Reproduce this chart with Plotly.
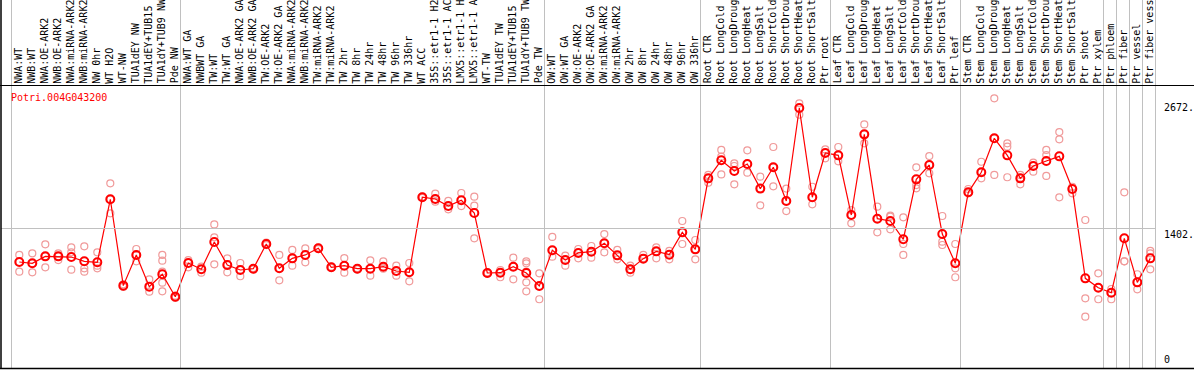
import plotly.graph_objects as go

W, H = 1194, 370

labels = [
    "NWA:WT", "NWB:WT", "NWA:OE-ARK2", "NWB:OE-ARK2", "NWA:miRNA-ARK2", "NWB:miRNA-ARK2",
    "NW 0hr", "WT H2O", "WT-NW", "TUA1dEY NW", "TUA1dEY+TUB15", "TUA1dY+TUB9 NW", "Pde NW",
    "NWA:WT GA", "NWBWT GA", "TW:WT", "TW:WT GA", "NWA:OE-ARK2 GA", "NWB:OE-ARK2 GA",
    "TW:OE-ARK2", "TW:OE-ARK2 GA", "NWA:miRNA-ARK2", "NWB:miRNA-ARK2", "TW:miRNA-ARK2",
    "TW:miRNA-ARK2", "TW 2hr", "TW 8hr", "TW 24hr", "TW 48hr", "TW 96hr", "TW 336hr",
    "WT ACC", "35S::etr1-1 H2", "35S::etr1-1 AC", "LMX5::etr1-1 H", "LMX5::etr1-1 A",
    "WT-TW", "TUA1dEY TW", "TUA1dEY+TUB15", "TUA1dY+TUB9 TW", "Pde TW",
    "OW:WT", "OW:WT GA", "OW:OE-ARK2", "OW:OE-ARK2 GA", "OW:miRNA-ARK2", "OW:miRNA-ARK2",
    "OW 2hr", "OW 8hr", "OW 24hr", "OW 48hr", "OW 96hr", "OW 336hr",
    "Root CTR", "Root LongCold", "Root LongDroug", "Root LongHeat", "Root LongSalt",
    "Root ShortCold", "Root ShortDrou", "Root ShortHeat", "Root ShortSalt", "Ptr root",
    "Leaf CTR", "Leaf LongCold", "Leaf LongDroug", "Leaf LongHeat", "Leaf LongSalt",
    "Leaf ShortCold", "Leaf ShortDrou", "Leaf ShortHeat", "Leaf ShortSalt", "Ptr leaf",
    "Stem CTR", "Stem LongCold", "Stem LongDroug", "Stem LongHeat", "Stem LongSalt",
    "Stem ShortCold", "Stem ShortDrou", "Stem ShortHeat", "Stem ShortSalt", "Ptr shoot", "Ptr xylem",
    "Ptr phloem", "Ptr fiber", "Ptr vessel", "Ptr fiber vess",
]

group_sizes = [13, 28, 12, 10, 10, 11, 1, 1, 1, 1]

means = [
    1060, 1047, 1117, 1117, 1110, 1067, 1057, 1690, 823, 1131, 813, 937, 712,
    1050, 987, 1261, 1030, 980, 993, 1241, 997, 1097, 1131, 1198, 1007, 1023, 993, 993,
    1013, 970, 957, 1710, 1693, 1622, 1680, 1552, 950, 953, 1013, 950, 819,
    1178, 1080, 1151, 1164, 1248, 1127, 987, 1094, 1167, 1134, 1358, 1187,
    1900, 2081, 1974, 2044, 1797, 2011, 1673, 2606, 1710, 2155,
    2131, 1532, 2342, 1495, 1472, 1288, 1890, 2034, 1341, 1047,
    1760, 1961, 2302, 2131, 1900, 2024, 2074, 2121, 1793, 896, 802,
    752, 1298, 856, 1097,
]

replicates = [
    [1131, 1060, 963], [1147, 1047, 957], [1238, 1117, 1007], [1147, 1117, 1080],
    [1208, 1157, 983], [1218, 997, 963], [1157, 1023, 997], [1850, 1690, 1549],
    [836, 823, 810], [1191, 1131, 1067], [886, 813, 762], [1131, 1074, 963, 853, 766],
    [722, 712, 700],
    [1080, 1050, 1007], [1013, 987, 953], [1438, 1308, 1037], [1097, 1037, 957],
    [1050, 980, 917], [1000, 993, 986], [1255, 1241, 1230], [1131, 997, 876],
    [1181, 1097, 1023], [1198, 1131, 1057], [1205, 1198, 1190], [1013, 1007, 1000],
    [1100, 1023, 953], [1000, 993, 986], [1077, 993, 923], [1067, 1013, 993],
    [1023, 970, 923], [1050, 957, 866], [1716, 1710, 1705], [1746, 1693, 1666],
    [1673, 1622, 1589], [1753, 1680, 1622], [1716, 1626, 1298], [957, 950, 943],
    [980, 953, 907], [1104, 1013, 886], [1067, 1047, 963, 856, 766], [947, 819, 686],
    [1312, 1178, 1114], [1124, 1080, 1023], [1191, 1151, 1097], [1221, 1164, 1104],
    [1341, 1248, 1157], [1181, 1127, 1087], [1023, 987, 953], [1131, 1094, 1097],
    [1208, 1167, 1097], [1171, 1134, 1087], [1472, 1358, 1241], [1281, 1187, 1087],
    [1934, 1900, 1857], [2185, 2118, 1940], [2051, 2024, 1840], [2181, 2044, 1957],
    [1917, 1797, 1629], [2215, 2011, 1820], [1797, 1673, 1572], [2653, 2606, 2539],
    [1816, 1710, 1639], [2191, 2155, 2101],
    [2215, 2131, 2071], [1582, 1532, 1449], [2442, 2342, 2252], [1616, 1495, 1358],
    [1525, 1515, 1388], [1509, 1241, 1131], [2011, 1833, 1800], [2124, 2034, 1951],
    [1522, 1264, 1231], [1241, 997, 907],
    [1793, 1760, 1750], [2067, 1961, 1900], [2704, 2302, 1934], [2252, 2218, 1911],
    [1934, 1900, 1840], [2057, 2024, 1967], [2185, 2134, 1924], [2365, 2292, 1710],
    [1816, 1793, 1750], [1482, 696, 511], [947, 802, 686],
    [789, 752, 686], [1760, 1067, 1067], [937, 856, 786], [1171, 1147, 987],
]

title_text = "Potri.004G043200"
tick_values = [2672, 1402, 0]
tick_labels = ["2672.", "1402.", "0"]

# ---- pixel geometry (layout only) ----
X0_PX, STEP_PX = 19.3, 13.0          # pixel of first category, spacing
Y0_PX, SCALE = 367.6, 0.0996         # pixel of value 0, px per unit
HEADER_PX = 85.5
BOTTOM_PX = 368.5

x_range = [(0 - X0_PX) / STEP_PX, (W - X0_PX) / STEP_PX]
y_range = [(Y0_PX - H) / SCALE, Y0_PX / SCALE]

def px(xp):
    return xp / W

def py(yp):
    return 1 - yp / H

FONT = "DejaVu Sans Mono"
n = len(labels)
xs = list(range(n))

rx, ry = [], []
for i, vals in enumerate(replicates):
    for v in vals:
        rx.append(i)
        ry.append(v)

fig = go.Figure()
fig.add_trace(go.Scatter(
    x=rx, y=ry, mode="markers",
    marker=dict(symbol="circle-open", size=7, color="#f09a9a", line=dict(width=1.2)),
    hoverinfo="skip", cliponaxis=False,
))
fig.add_trace(go.Scatter(
    x=xs, y=means, mode="lines+markers",
    line=dict(color="#ff0000", width=1.2),
    marker=dict(symbol="circle-open", size=8, color="#ff0000", line=dict(width=2)),
    hoverinfo="skip", cliponaxis=False,
))

shapes = []
# group separators
starts = [0]
for g in group_sizes:
    starts.append(starts[-1] + g)
for s in starts:
    xp = round(X0_PX + STEP_PX * s - 8.6) + 0.5
    shapes.append(dict(type="line", xref="paper", yref="paper",
                       x0=px(xp), x1=px(xp), y0=py(0), y1=py(BOTTOM_PX),
                       line=dict(color="#c0c0c0", width=1)))
# horizontal gridline at middle tick
gy = round(Y0_PX - SCALE * tick_values[1]) + 0.5
x_end = round(X0_PX + STEP_PX * n - 8.6) + 0.5
shapes.append(dict(type="line", xref="paper", yref="paper",
                   x0=px(1), x1=px(x_end), y0=py(gy), y1=py(gy),
                   line=dict(color="#c0c0c0", width=1)))
# black frame lines
shapes.append(dict(type="line", xref="paper", yref="paper",
                   x0=0, x1=1, y0=py(HEADER_PX), y1=py(HEADER_PX),
                   line=dict(color="black", width=1)))
shapes.append(dict(type="line", xref="paper", yref="paper",
                   x0=0, x1=1, y0=py(BOTTOM_PX), y1=py(BOTTOM_PX),
                   line=dict(color="black", width=1.5)))
shapes.append(dict(type="line", xref="paper", yref="paper",
                   x0=px(1), x1=px(1), y0=py(0), y1=py(BOTTOM_PX),
                   line=dict(color="black", width=1.5)))

annotations = []
for i, lab in enumerate(labels):
    annotations.append(dict(
        x=i - 0.08, xref="x", y=py(84.6), yref="paper",
        text=lab, textangle=-90, showarrow=False,
        xanchor="center", yanchor="bottom", borderpad=0,
        font=dict(family=FONT, size=10, color="black"),
    ))
annotations.append(dict(
    x=px(9), xref="paper", y=py(97), yref="paper", text=title_text,
    showarrow=False, xanchor="left", yanchor="middle",
    font=dict(family=FONT, size=10, color="#ff0000"),
))
for k, (tv, tl) in enumerate(zip(tick_values, tick_labels)):
    last = k == len(tick_values) - 1
    annotations.append(dict(
        x=px(1162), xref="paper", y=tv, yref="y", text=tl, showarrow=False,
        xanchor="left", yanchor="bottom" if last else "top",
        yshift=1,
        font=dict(family=FONT, size=10, color="black"),
    ))

fig.update_layout(
    width=W, height=H, autosize=False,
    margin=dict(l=0, r=0, t=0, b=0, pad=0),
    paper_bgcolor="white", plot_bgcolor="white",
    showlegend=False,
    xaxis=dict(range=x_range, visible=False, fixedrange=True),
    yaxis=dict(range=y_range, visible=False, fixedrange=True),
    shapes=shapes, annotations=annotations,
)

fig.write_html(
    "out.html",
    config={"displayModeBar": False},
    post_script="document.body.style.margin='0';document.body.style.padding='0';"
                "document.body.style.overflow='hidden';",
)
